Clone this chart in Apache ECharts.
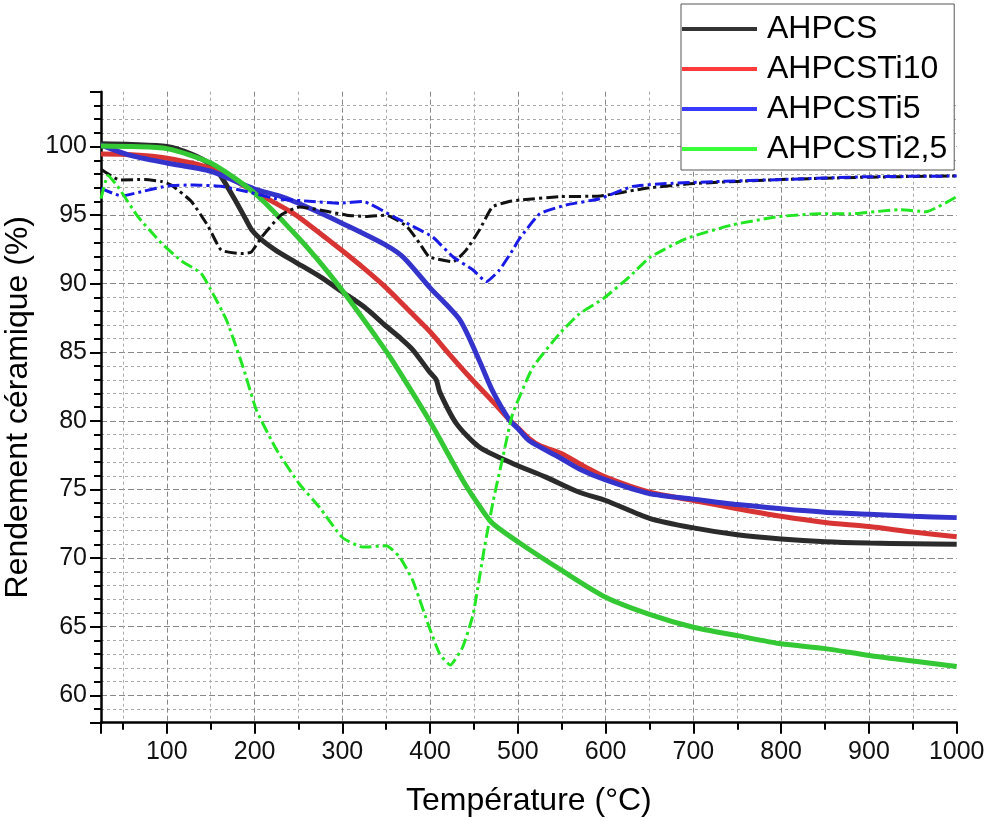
<!DOCTYPE html>
<html><head><meta charset="utf-8">
<script src="https://cdn.jsdelivr.net/npm/echarts@6/dist/echarts.min.js"></script>
<style>html,body{margin:0;padding:0;background:#fff}#c{width:987px;height:821px}</style>
</head><body><div id="c"></div>
<script>
// Legend names
const seriesNames = ['AHPCS', 'AHPCSTi10', 'AHPCSTi5', 'AHPCSTi2,5'];

// TGA curves: [temperature °C, yield %]
const ahpcs = [[25,100.2],[60,100.15],[100,100.0],[128,99.45],[150,98.7],[160,98.0],[177,96.2],[190,94.7],[197,93.9],[208,93.2],[225,92.4],[246,91.6],[275,90.5],[300,89.4],[325,88.3],[350,86.9],[365,86.1],[380,85.2],[399,83.6],[407,83.0],[411,82.1],[430,79.8],[456,78.1],[494,76.9],[532,75.9],[570,74.8],[600,74.2],[650,72.9],[700,72.2],[750,71.7],[800,71.4],[850,71.2],[900,71.1],[950,71.05],[1000,71.0]];
const ahpcsTi10 = [[25,99.45],[60,99.4],[100,99.15],[150,98.4],[200,96.7],[245,95.1],[270,93.9],[300,92.4],[325,91.1],[350,89.7],[375,88.1],[400,86.5],[420,85.0],[445,83.2],[470,81.5],[490,80.1],[500,79.5],[513,78.7],[525,78.2],[550,77.6],[575,76.7],[600,75.9],[650,74.8],[700,74.2],[750,73.6],[800,73.05],[850,72.6],[900,72.3],[950,71.9],[1000,71.55]];
const ahpcsTi5 = [[25,100.1],[56,99.4],[100,98.8],[150,98.2],[200,96.9],[228,96.4],[245,96.0],[270,95.3],[300,94.4],[350,92.8],[370,91.9],[400,89.7],[434,87.35],[456,84.4],[471,82.2],[490,80.1],[500,79.45],[513,78.55],[547,77.35],[570,76.5],[600,75.7],[650,74.7],[700,74.3],[750,73.9],[800,73.6],[850,73.35],[900,73.2],[950,73.05],[1000,72.95]];
const ahpcsTi25 = [[25,100.05],[60,100.0],[100,99.85],[150,98.8],[200,96.6],[245,93.7],[270,91.9],[300,89.5],[342,85.8],[357,84.4],[399,80.05],[437,75.7],[453,74.1],[470,72.6],[502,71.1],[550,69.1],[600,67.15],[650,65.9],[700,64.96],[750,64.35],[800,63.75],[850,63.4],[900,62.9],[950,62.5],[1000,62.1]];

// Derivative (dash-dot) curves
const dtgAhpcs = [[25,98.35],[46,97.57],[75,97.6],[94,97.45],[105,97.2],[128,96.0],[147,94.2],[162,92.45],[185,92.2],[196,92.3],[208,93.4],[230,95.0],[251,95.6],[285,95.25],[305,95.0],[327,94.9],[350,95.0],[373,94.2],[388,92.95],[399,91.97],[426,91.6],[441,92.45],[456,93.9],[471,95.6],[490,96.0],[502,96.1],[548,96.35],[594,96.4],[646,96.96],[700,97.3],[800,97.6],[900,97.77],[1000,97.86]];
const dtgAhpcsTi5 = [[25,96.96],[48,96.4],[75,96.77],[101,97.13],[131,97.2],[162,97.1],[192,96.7],[225,96.2],[266,96.0],[297,95.87],[323,96.0],[358,94.9],[380,94.2],[403,93.4],[426,91.97],[449,91.0],[464,90.15],[479,91.0],[494,92.45],[502,93.3],[525,95.1],[555,95.74],[593,96.2],[631,97.1],[669,97.3],[726,97.45],[802,97.6],[897,97.8],[1000,97.85]];
const dtgAhpcsTi25 = [[25,96.2],[33,97.9],[44,97.1],[67,94.9],[94,92.95],[116,91.7],[139,90.76],[149,89.7],[168,87.35],[187,83.9],[202,80.8],[225,77.9],[251,75.4],[274,73.7],[300,71.5],[323,70.8],[350,70.9],[365,70.1],[380,68.4],[399,64.96],[411,63.0],[423,62.2],[437,63.5],[449,65.9],[462,70.8],[472,74.2],[483,77.4],[494,80.5],[517,83.9],[548,86.4],[570,87.8],[597,88.9],[627,90.5],[650,91.9],[692,93.3],[745,94.3],[798,94.9],[844,95.1],[878,95.1],[935,95.4],[965,95.25],[1000,96.35]];

const FONT = '"Liberation Sans", Arial, sans-serif';
const lineColors = ['#2b2b2b', '#d83434', '#3434cc', '#34c834'];
const legendColors = ['#333333', '#ff3a3a', '#3a3aff', '#3aff3a'];

function solid(name, data, color) {
  return {type:'line', name, data, symbol:'none', smooth:0.25, silent:true, z:2,
    lineStyle:{color, width:5}, itemStyle:{color}};
}
function dtg(name, data, color) {
  return {type:'line', name, data, symbol:'none', smooth:0.15, silent:true, z:3,
    lineStyle:{color, width:3, type:[12,4,3,4]}, itemStyle:{color}};
}

const chart = echarts.init(document.getElementById('c'), null, {renderer:'canvas'});
chart.setOption({
  animation:false,
  backgroundColor:'#fff',
  grid:{left:101, right:30.3, top:91.7, bottom:98.3, containLabel:false, outerBoundsMode:'none'},
  legend:{
    data: seriesNames.map((n,i)=>({name:n, icon:'rect', itemStyle:{color:legendColors[i]}})),
    orient:'vertical', left:681, top:4, padding:[9,7,5,1], itemGap:8, itemWidth:75, itemHeight:4,
    backgroundColor:'#fff', borderColor:'#555', borderWidth:1, borderRadius:0, z:10,
    selectedMode:false,
    textStyle:{fontSize:32, color:'#000', fontFamily:FONT, padding:[0,0,0,5]}
  },
  xAxis:{
    type:'value', min:25, max:1000, splitNumber:10,
    name:'Température (°C)', nameLocation:'middle', nameGap:62,
    nameTextStyle:{fontSize:32, color:'#000', fontFamily:FONT},
    axisLine:{show:true, onZero:false, lineStyle:{color:'#000', width:2.5}},
    axisTick:{show:true, inside:false, length:11, lineStyle:{color:'#000', width:2}},
    minorTick:{show:true, splitNumber:2, length:7, lineStyle:{color:'#000', width:2}},
    axisLabel:{fontSize:25, color:'#111', margin:17, fontFamily:FONT, showMinLabel:false, showMaxLabel:true,
      formatter:(v)=>String(v)},
    splitLine:{show:true, showMinLine:false, showMaxLine:false, lineStyle:{color:'#888', width:1, type:[5,3]}},
    minorSplitLine:{show:true, lineStyle:{color:'#aaa', width:1, type:[3,3]}}
  },
  yAxis:{
    type:'value', min:58, max:104, splitNumber:9,
    name:'Rendement céramique (%)', nameLocation:'middle', nameGap:51,
    nameTextStyle:{fontSize:32, color:'#000', fontFamily:FONT},
    axisLine:{show:true, onZero:false, lineStyle:{color:'#000', width:2.5}},
    axisTick:{show:true, inside:false, length:11, lineStyle:{color:'#000', width:2}},
    minorTick:{show:true, splitNumber:5, length:7, lineStyle:{color:'#000', width:2}},
    axisLabel:{fontSize:25, color:'#111', margin:14, fontFamily:FONT, showMinLabel:false, showMaxLabel:false,
      formatter:(v)=>String(v)},
    splitLine:{show:true, showMinLine:false, showMaxLine:false, lineStyle:{color:'#888', width:1, type:[6,3]}},
    minorSplitLine:{show:true, lineStyle:{color:'#aaa', width:1, type:[3,3]}}
  },
  series:[
    solid(seriesNames[0], ahpcs, lineColors[0]),
    solid(seriesNames[1], ahpcsTi10, lineColors[1]),
    solid(seriesNames[2], ahpcsTi5, lineColors[2]),
    solid(seriesNames[3], ahpcsTi25, lineColors[3]),
    dtg('DTG AHPCS', dtgAhpcs, '#111111'),
    dtg('DTG AHPCSTi5', dtgAhpcsTi5, '#1a1ae6'),
    dtg('DTG AHPCSTi2,5', dtgAhpcsTi25, '#22e622')
  ]
});
</script>
</body></html>
